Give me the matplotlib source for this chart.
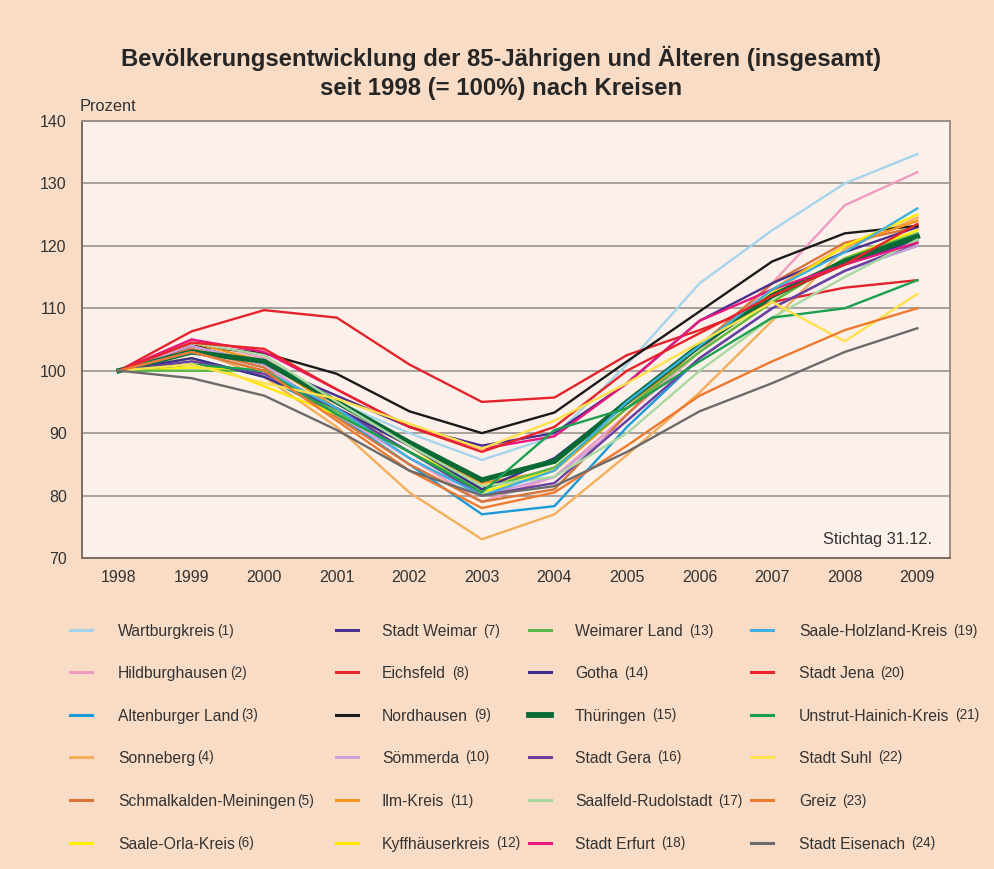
import matplotlib
matplotlib.use("Agg")
import matplotlib.pyplot as plt
from matplotlib.lines import Line2D

plt.rcParams['font.family'] = ['Liberation Sans', 'DejaVu Sans']

years = list(range(1998, 2010))

kreise = [
    "Wartburgkreis", "Hildburghausen", "Altenburger Land", "Sonneberg",
    "Schmalkalden-Meiningen", "Saale-Orla-Kreis", "Stadt Weimar", "Eichsfeld",
    "Nordhausen", "Sömmerda", "Ilm-Kreis", "Kyffhäuserkreis",
    "Weimarer Land", "Gotha", "Thüringen", "Stadt Gera",
    "Saalfeld-Rudolstadt", "Stadt Erfurt", "Saale-Holzland-Kreis", "Stadt Jena",
    "Unstrut-Hainich-Kreis", "Stadt Suhl", "Greiz", "Stadt Eisenach",
]

farben = [
    "#a6d4ec", "#f09cc0", "#1a9ad8", "#f5ae5a",
    "#d8763a", "#fff000", "#4a2f8c", "#e3242b",
    "#1a1a1a", "#d0a0d8", "#f7941d", "#ffe800",
    "#5cb84a", "#3b2f90", "#0a6a35", "#6b3fa0",
    "#a8d8a0", "#e8177d", "#40b0e0", "#e8232a",
    "#1aa050", "#ffe14a", "#ee7a30", "#6b6b6b",
]

# Index 1998 = 100
werte = [
    [100, 104.0, 101.0, 95.0, 90.0, 85.7, 89.5, 101.0, 114.0, 122.5, 130.0, 134.7],  # Wartburgkreis
    [100, 105.0, 102.0, 94.0, 86.0, 79.0, 83.0, 93.0, 103.0, 114.0, 126.5, 131.8],   # Hildburghausen
    [100, 102.0, 99.0, 93.0, 85.0, 77.0, 78.3, 91.0, 102.0, 110.0, 116.0, 120.0],    # Altenburger Land
    [100, 103.5, 99.0, 91.0, 80.5, 73.0, 77.0, 86.5, 96.5, 108.0, 119.5, 124.5],     # Sonneberg
    [100, 103.5, 100.5, 92.5, 85.0, 79.0, 81.0, 93.0, 104.0, 114.0, 120.5, 123.0],   # Schmalkalden-Meiningen
    [100, 100.5, 100.0, 94.0, 88.0, 80.5, 84.0, 94.0, 103.0, 111.0, 118.0, 122.5],   # Saale-Orla-Kreis
    [100, 104.0, 101.0, 96.0, 91.0, 88.0, 90.0, 98.0, 108.0, 114.0, 119.0, 123.0],   # Stadt Weimar
    [100, 106.3, 109.7, 108.5, 101.0, 95.0, 95.7, 102.5, 106.5, 111.0, 113.3, 114.5],  # Eichsfeld
    [100, 104.0, 102.8, 99.5, 93.5, 90.0, 93.3, 101.5, 109.5, 117.5, 122.0, 123.2],  # Nordhausen
    [100, 104.0, 101.0, 93.0, 86.0, 80.0, 83.0, 92.0, 102.0, 110.0, 116.0, 120.0],   # Sömmerda
    [100, 104.5, 101.5, 94.0, 88.0, 82.0, 84.0, 94.0, 104.0, 113.0, 120.0, 124.0],   # Ilm-Kreis
    [100, 102.0, 97.5, 93.0, 87.0, 81.5, 84.0, 95.0, 104.0, 112.5, 120.0, 125.0],    # Kyffhäuserkreis
    [100, 100.0, 100.0, 93.5, 87.0, 81.0, 84.5, 94.0, 103.0, 111.0, 118.0, 122.0],   # Weimarer Land
    [100, 102.0, 99.0, 94.0, 88.0, 81.0, 86.0, 95.0, 104.0, 112.0, 117.0, 121.0],    # Gotha
    [100, 103.0, 101.5, 95.0, 88.5, 82.5, 85.5, 95.0, 104.0, 112.0, 117.5, 121.5],   # Thüringen
    [100, 101.5, 99.5, 94.0, 87.0, 80.0, 82.0, 92.0, 102.0, 110.0, 116.0, 120.5],    # Stadt Gera
    [100, 104.5, 102.5, 95.0, 88.0, 81.5, 83.0, 90.0, 100.0, 108.5, 115.0, 121.0],   # Saalfeld-Rudolstadt
    [100, 105.0, 103.0, 97.0, 91.0, 87.5, 89.5, 98.0, 108.0, 113.0, 117.0, 120.5],   # Stadt Erfurt
    [100, 103.0, 100.0, 94.0, 86.0, 80.0, 84.0, 95.0, 104.0, 113.0, 119.0, 126.0],   # Saale-Holzland-Kreis
    [100, 104.5, 103.5, 97.0, 91.0, 87.0, 91.0, 100.0, 106.0, 112.0, 117.0, 123.5],  # Stadt Jena
    [100, 101.0, 100.0, 93.0, 87.0, 80.5, 90.5, 94.0, 101.5, 108.5, 110.0, 114.5],   # Unstrut-Hainich-Kreis
    [100, 101.0, 98.0, 95.5, 91.5, 87.5, 92.0, 98.0, 104.5, 111.0, 104.7, 112.3],    # Stadt Suhl
    [100, 103.0, 100.0, 92.0, 84.0, 78.0, 80.5, 88.0, 96.0, 101.5, 106.5, 110.0],    # Greiz
    [100, 98.8, 96.0, 90.5, 84.0, 80.0, 81.5, 87.0, 93.5, 98.0, 103.0, 106.8],       # Stadt Eisenach
]

hintergrund = "#f9dcc6"
textfarbe = "#333333"

fig = plt.figure(figsize=(9.95, 8.69), dpi=100, facecolor=hintergrund)
ax = fig.add_axes([0.0824, 0.3579, 0.8724, 0.5029])
ax.set_facecolor("#fcf1ea")

for name, farbe, reihe in zip(kreise, farben, werte):
    lw = 3.8 if name == "Thüringen" else 1.7
    ax.plot(years, reihe, color=farbe, lw=lw, solid_joinstyle='miter', zorder=3)

ax.set_xlim(1997.49, 2009.45)
ax.set_ylim(70, 140)
ax.set_xticks(years)
ax.set_yticks(range(70, 141, 10))
ax.tick_params(length=0, labelsize=11.5, colors=textfarbe, pad=11)
ax.tick_params(axis='x', pad=9)
ax.grid(axis='y', color="#a8a09b", lw=1.4, zorder=1)
for s in ax.spines.values():
    s.set_color("#9a8f88")
    s.set_linewidth(1.4)
ax.spines['left'].set_color("#7a6a60")
ax.spines['bottom'].set_color("#7a6a60")

ax.text(0.979, 0.025, "Stichtag 31.12.", transform=ax.transAxes, ha='right',
        va='bottom', fontsize=11.8, color=textfarbe)

fig.text(0.080, 0.877, "Prozent", fontsize=11.8, color=textfarbe, va='center')
fig.text(0.504, 0.933, "Bevölkerungsentwicklung der 85-Jährigen und Älteren (insgesamt)",
         ha='center', va='center', fontsize=17.2, fontweight='bold', color="#262626")
fig.text(0.504, 0.898, "seit 1998 (= 100%) nach Kreisen",
         ha='center', va='center', fontsize=17.2, fontweight='bold', color="#262626")

# Legende: 4 Spalten x 6 Zeilen, Nummer in kleinerer Schrift auf gleicher Grundlinie
spalten_linie = [70, 336, 529, 751]
spalten_text = [118, 382, 575, 799]
zeilen_y = [630, 672, 715, 757, 800, 843]
W, H = 995, 869
renderer = fig.canvas.get_renderer()
for i, (name, farbe) in enumerate(zip(kreise, farben)):
    sp, ze = divmod(i, 6)
    y = 1 - zeilen_y[ze] / H
    basis = 1 - (zeilen_y[ze] + 6) / H
    lw = 4.2 if name == "Thüringen" else 2.2
    fig.add_artist(Line2D([spalten_linie[sp] / W, (spalten_linie[sp] + 22) / W], [y, y],
                          color=farbe, lw=lw, transform=fig.transFigure))
    t = fig.text(spalten_text[sp] / W, basis, name, fontsize=11.3, color=textfarbe,
                 va='baseline')
    bb = t.get_window_extent(renderer)
    nummer = f"({i + 1})"
    abstand = 2 if i < 6 else 6
    fig.text((bb.x1 + abstand) / W, basis + 1.5 / H, nummer, fontsize=9.8,
             color=textfarbe, va='baseline')

fig.savefig("out.png", dpi=100, facecolor=hintergrund)
